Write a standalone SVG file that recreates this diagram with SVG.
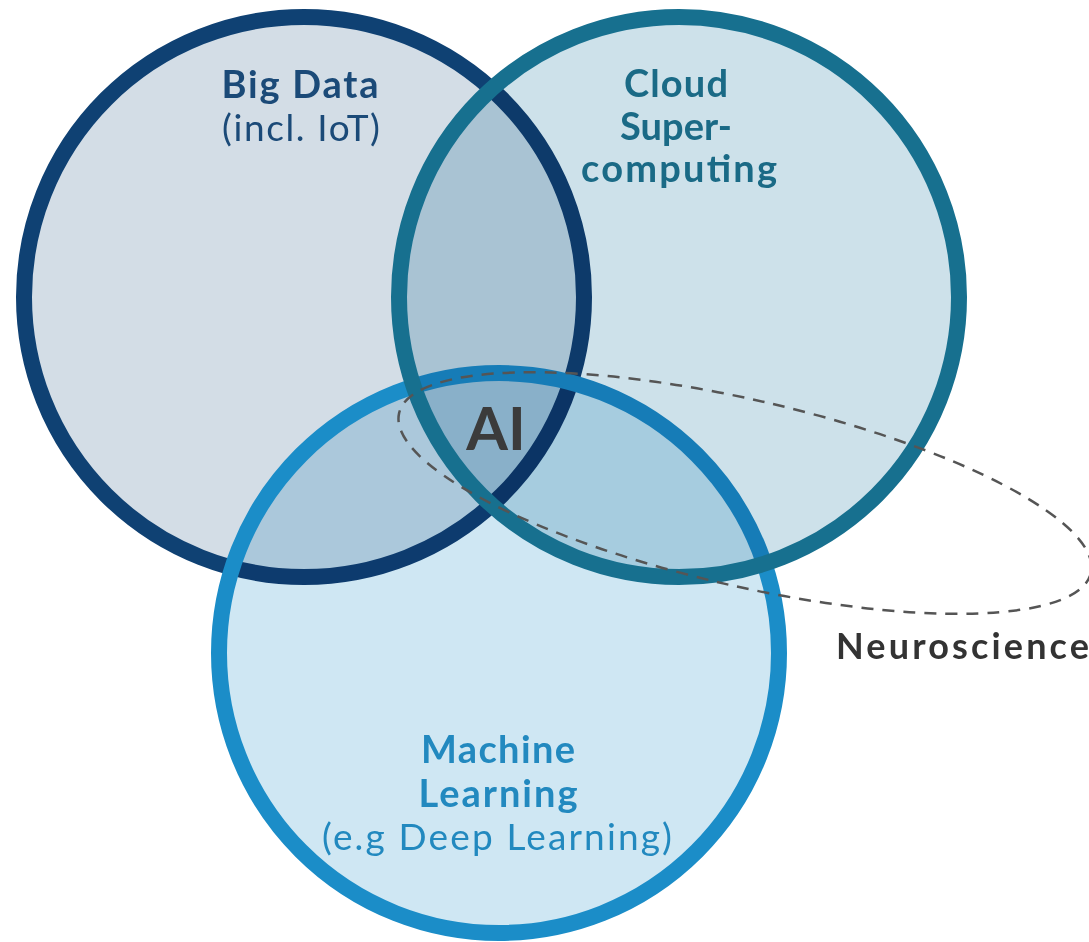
<svg xmlns="http://www.w3.org/2000/svg" width="1089" height="942" viewBox="0 0 1089 942">
<style>
.fill{mix-blend-mode:multiply}
.ring{fill:none;stroke-width:16}
.t{font-family:Lato,"Open Sans","Liberation Sans",sans-serif;text-anchor:middle}
.b{font-weight:700}
.dash{fill:none;stroke:#555;stroke-width:2.5;stroke-dasharray:12 9}
</style>
<rect width="1089" height="942" fill="#ffffff"/>
<g id="node-bigdata">
<circle class="fill" cx="304" cy="297" r="280" fill="#d3dde6"/>
<circle class="ring" cx="304" cy="297" r="280" stroke="#0f4173"/>
<text class="t b" x="300" y="98" font-size="38" fill="#1b4a78" textLength="157" lengthAdjust="spacing">Big Data</text>
<text class="t" x="301" y="141" font-size="37" fill="#1b4a78" textLength="158" lengthAdjust="spacing">(incl. IoT)</text>
</g>
<g id="node-ml">
<circle class="fill" cx="499" cy="653" r="280" fill="#cfe7f3"/>
<circle class="ring" cx="499" cy="653" r="280" stroke="#1b8dc8"/>
<text class="t b" x="498" y="763" font-size="38" fill="#2289bf" textLength="154" lengthAdjust="spacing">Machine</text>
<text class="t b" x="498" y="807" font-size="38" fill="#2289bf" textLength="159" lengthAdjust="spacing">Learning</text>
<text class="t" x="497" y="850" font-size="37" fill="#2289bf" textLength="350" lengthAdjust="spacing">(e.g Deep Learning)</text>
</g>
<g id="node-cloud">
<circle class="fill" cx="679" cy="297" r="280" fill="#cde1ea"/>
<circle class="ring" cx="679" cy="297" r="280" stroke="#17708f"/>
<text class="t b" x="676" y="97" font-size="38" fill="#1a6a86" textLength="104" lengthAdjust="spacing">Cloud</text>
<text class="t b" x="676" y="140" font-size="38" fill="#1a6a86">Super-</text>
<text class="t b" x="679" y="182" font-size="38" fill="#1a6a86" textLength="196" lengthAdjust="spacing">computing</text>
</g>
<g id="node-ai">
<text class="t b" x="496" y="450" font-size="60" fill="#3b3b3b">AI</text>
</g>
<g id="node-neuroscience">
<ellipse class="dash" cx="745" cy="493" rx="355" ry="93" transform="rotate(13 745 493)"/>
<text x="836" y="659" font-family="Lato,'Open Sans','Liberation Sans',sans-serif" font-weight="700" font-size="36" fill="#333333" textLength="253" lengthAdjust="spacing">Neuroscience</text>
</g>
<g id="connectors"/>
</svg>
